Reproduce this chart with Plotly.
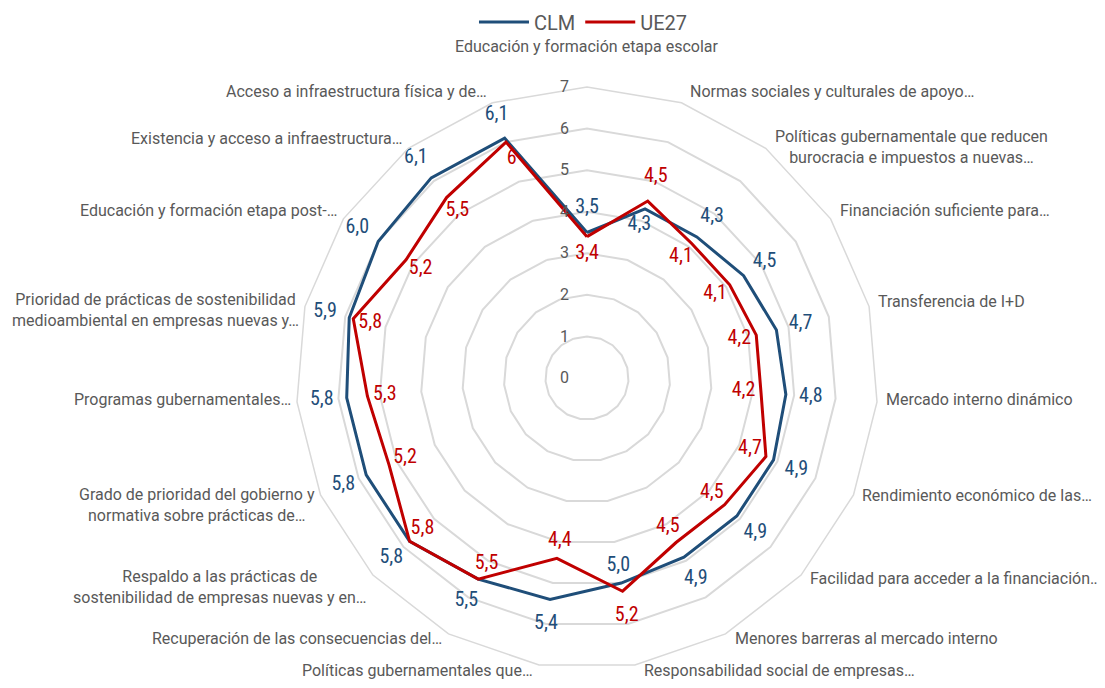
import math
import plotly.graph_objects as go

categories = [
    "Educación y formación etapa escolar",
    "Normas sociales y culturales de apoyo…",
    "Políticas gubernamentale que reducen<br>burocracia e impuestos a nuevas…",
    "Financiación suficiente para…",
    "Transferencia de I+D",
    "Mercado interno dinámico",
    "Rendimiento económico de las…",
    "Facilidad para acceder a la financiación…",
    "Menores barreras al mercado interno",
    "Responsabilidad social de empresas…",
    "Políticas gubernamentales que…",
    "Recuperación de las consecuencias del…",
    "Respaldo a las prácticas de<br>sostenibilidad de empresas nuevas y en…",
    "Grado de prioridad del gobierno y<br>normativa sobre prácticas de…",
    "Programas gubernamentales…",
    "Prioridad de prácticas de sostenibilidad<br>medioambiental en empresas nuevas y…",
    "Educación y formación etapa post-…",
    "Existencia y acceso a infraestructura…",
    "Acceso a infraestructura física y de…",
]

clm = [3.5, 4.3, 4.3, 4.5, 4.7, 4.8, 4.9, 4.9, 4.9, 5.0,
       5.4, 5.5, 5.8, 5.8, 5.8, 5.9, 6.0, 6.1, 6.1]
ue27 = [3.4, 4.5, 4.1, 4.1, 4.2, 4.2, 4.7, 4.5, 4.5, 5.2,
        4.4, 5.5, 5.8, 5.2, 5.3, 5.8, 5.2, 5.5, 6.0]

radial_ticks = [0, 1, 2, 3, 4, 5, 6, 7]

BLUE = "#1F4E79"
RED = "#C00000"
GRAY = "#595959"
GRID = "#D9D9D9"

# figure geometry (pixels)
W, H = 1097, 680
CX, CY, R = 579, 370, 291

OUT = 0.6
IN = 0.42

clm_text = [f"{v:.1f}".replace(".", ",") for v in clm]
ue_text = [("%g" % v).replace(".", ",") for v in ue27]

clm_lab_r = [b + OUT if b >= r else b - IN for b, r in zip(clm, ue27)]
ue_lab_r = [r + OUT if r > b else r - IN for b, r in zip(clm, ue27)]

theta_closed = categories + [categories[0]]

fig = go.Figure()
fig.add_trace(go.Scatterpolar(
    r=clm + [clm[0]], theta=theta_closed, mode="lines", name="CLM",
    line=dict(color=BLUE, width=3), hoverinfo="skip"))
fig.add_trace(go.Scatterpolar(
    r=ue27 + [ue27[0]], theta=theta_closed, mode="lines", name="UE27",
    line=dict(color=RED, width=3), hoverinfo="skip"))

label_font = "Roboto Condensed, Liberation Sans Narrow, Roboto, sans-serif"
fig.add_trace(go.Scatterpolar(
    r=clm_lab_r, theta=categories, mode="text", text=clm_text,
    textfont=dict(color=BLUE, size=20, family=label_font),
    showlegend=False, hoverinfo="skip"))
fig.add_trace(go.Scatterpolar(
    r=ue_lab_r, theta=categories, mode="text", text=ue_text,
    textfont=dict(color=RED, size=20, family=label_font),
    showlegend=False, hoverinfo="skip"))

# category labels placed around the outer polygon (Excel-like anchoring)
n = len(categories)
for i, lab in enumerate(categories):
    a = 2 * math.pi * i / n
    s, c = math.sin(a), math.cos(a)
    vx = CX + R * s
    vy = CY - R * c
    extra = 9 * lab.count("<br>")
    if abs(s) < 0.05:
        x, xa, y = vx, "center", vy - 41
    elif s > 0:
        x, xa, y = vx + 7, "left", vy - 9 * c - 3 + extra
    else:
        x, xa, y = vx - 4, "right", vy - 9 * c - 3 + extra
    fig.add_annotation(
        x=x / W, y=1 - y / H, xref="paper", yref="paper", text=lab,
        showarrow=False, xanchor=xa, yanchor="middle", align="center",
        font=dict(size=16, color=GRAY, family="Roboto, sans-serif"))

fig.update_layout(
    width=W, height=H,
    margin=dict(l=0, r=0, t=0, b=0, autoexpand=False),
    paper_bgcolor="white",
    font=dict(family="Roboto, sans-serif", color=GRAY, size=16),
    showlegend=True,
    legend=dict(orientation="h", x=0.5246, xanchor="center", y=1.008,
                yanchor="top", font=dict(size=20, color=GRAY),
                itemwidth=50),
    polar=dict(
        domain=dict(x=[(CX - R) / W, (CX + R) / W],
                    y=[1 - (CY + R) / H, 1 - (CY - R) / H]),
        bgcolor="white",
        gridshape="linear",
        radialaxis=dict(
            range=[0, 7], tickvals=radial_ticks, angle=90,
            side="counterclockwise", showline=False,
            ticks="outside", ticklen=12, tickcolor="rgba(0,0,0,0)",
            gridcolor=GRID, gridwidth=1.5,
            tickfont=dict(size=16, color=GRAY), tickangle=90),
        angularaxis=dict(
            rotation=90, direction="clockwise", showgrid=False,
            showline=True, linecolor=GRID, linewidth=1.5,
            ticks="", showticklabels=False),
    ),
)

fig.write_html("out.html")
